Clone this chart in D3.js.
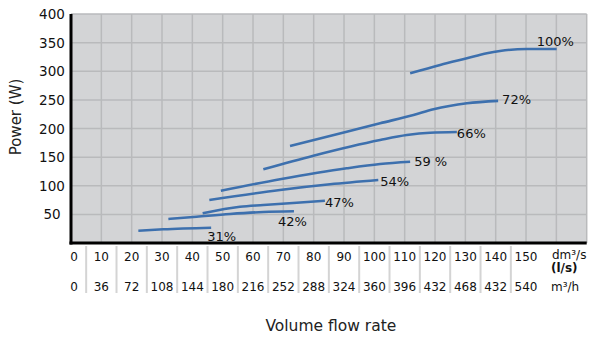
<!DOCTYPE html>
<html><head><meta charset="utf-8">
<script src="https://cdn.jsdelivr.net/npm/d3@7"></script>
<style>html,body{margin:0;padding:0;background:#fff;}svg{display:block;}</style>
</head><body>
<svg id="chart" width="590" height="338"></svg>
<script>
// ---- data ----
const flowTicks = [0,10,20,30,40,50,60,70,80,90,100,110,120,130,140,150];
const m3hLabels = ["0","36","72","108","144","180","216","252","288","324","360","396","432","468","432","540"];
const powerTicks = [50,100,150,200,250,300,350,400];
const seriesNames = ["100%","72%","66%","59 %","54%","47%","42%","31%"];
const s100 = [[111.8,296.4],[121.7,310.9],[130.5,322.6],[137.1,331.4],[141.4,335.4],[150.2,338.9],[160.1,338.9]];
const s72  = [[72.2,169.4],[90.9,194.4],[101.9,209.1],[112.9,223.6],[119.5,233.5],[130.5,244.0],[140.8,248.3]];
const s66  = [[63.4,128.7],[79.9,152.5],[101.9,179.9],[110.7,188.6],[118.4,192.7],[127.2,193.9]];
const s59  = [[49.4,91.4],[68.9,111.3],[90.9,130.5],[101.9,138.0],[111.8,142.0]];
const s54  = [[45.6,75.1],[68.9,92.6],[85.4,102.5],[101.3,110.0]];
const s47  = [[43.4,51.9],[55.7,63.4],[63.4,66.4],[74.4,70.4],[83.7,73.9]];
const s42  = [[32.1,41.9],[41.4,45.9],[52.4,50.7],[63.4,54.1],[73.5,55.4]];
const s31  = [[22.2,21.5],[30.4,23.9],[46.2,26.7]];
const seriesData = [s100,s72,s66,s59,s54,s47,s42,s31];
// label offsets (px) relative to the last point of each series
const labelDx = [-20,4,0,4,2,0,-16,-4];
const labelDy = [-3,3,6,4,6,6,15,13];

// ---- layout ----
const svg = d3.select("#chart");
const L = 71, R = 586.7, T = 14, B = 243;
const x = d3.scaleLinear().domain([0,170]).range([L,R]);
const y = d3.scaleLinear().domain([0,400]).range([B,T]);
const numFont = "DejaVu Sans, sans-serif";

// background
svg.append("rect").attr("x",L).attr("y",T).attr("width",R-L).attr("height",B-T).attr("fill","#d3d4d6");

// grid
const g = svg.append("g");
g.selectAll("line.v").data(d3.range(10,180,10)).enter().append("line")
  .attr("x1",d=>x(d)).attr("x2",d=>x(d)).attr("y1",T).attr("y2",B)
  .attr("stroke","#b9babc").attr("stroke-width",1.5);
g.selectAll("line.h").data(powerTicks).enter().append("line")
  .attr("x1",L).attr("x2",R).attr("y1",d=>y(d)).attr("y2",d=>y(d))
  .attr("stroke","#b9babc").attr("stroke-width",1.5);

// axes lines
svg.append("line").attr("x1",L).attr("x2",L).attr("y1",T).attr("y2",B+1.5).attr("stroke","#000").attr("stroke-width",3);
svg.append("line").attr("x1",L-1.5).attr("x2",R).attr("y1",B).attr("y2",B).attr("stroke","#000").attr("stroke-width",3);

// y labels
svg.selectAll("text.yl").data(powerTicks).enter().append("text")
  .attr("x",52).attr("y",d=>y(d)+5).attr("text-anchor","middle")
  .attr("font-family",numFont).attr("font-size",13.5).attr("fill","#111")
  .text(d=>d);

// separators under x axis
svg.selectAll("line.sep").data(d3.range(5,150,10)).enter().append("line")
  .attr("x1",d=>x(d)).attr("x2",d=>x(d)).attr("y1",246).attr("y2",293)
  .attr("stroke","#d4d4d4").attr("stroke-width",2);

// x labels rows
svg.selectAll("text.xl").data(flowTicks).enter().append("text")
  .attr("x",d=>d===0?x(d)+3:x(d)).attr("y",260.5).attr("text-anchor","middle")
  .attr("font-family",numFont).attr("font-size",12).attr("fill","#111")
  .text(d=>d);
svg.selectAll("text.xl2").data(flowTicks).enter().append("text")
  .attr("x",d=>d===0?x(d)+3:x(d)).attr("y",290.5).attr("text-anchor","middle")
  .attr("font-family",numFont).attr("font-size",12).attr("fill","#111")
  .text((d,i)=>m3hLabels[i]);
svg.append("text").attr("x",552).attr("y",258.5).attr("font-family",numFont).attr("font-size",12).attr("fill","#111").text("dm³/s");
svg.append("text").attr("x",551).attr("y",271.5).attr("font-family",numFont).attr("font-size",12).attr("font-weight","bold").attr("fill","#111").text("(l/s)");
svg.append("text").attr("x",551).attr("y",290.5).attr("font-family",numFont).attr("font-size",12).attr("fill","#111").text("m³/h");

// axis titles
svg.append("text").attr("x",(L+R)/2+2).attr("y",331).attr("text-anchor","middle")
  .attr("font-family",numFont).attr("font-size",15.5).attr("fill","#222").text("Volume flow rate");
svg.append("text").attr("transform","translate(21,117) rotate(-90)").attr("text-anchor","middle")
  .attr("font-family",numFont).attr("font-size",15).attr("fill","#222").text("Power (W)");

// curves
const line = d3.line().x(d=>x(d[0])).y(d=>y(d[1])).curve(d3.curveMonotoneX);
svg.selectAll("path.s").data(seriesData).enter().append("path")
  .attr("d",line).attr("fill","none").attr("stroke","#3d70ae").attr("stroke-width",2.6).attr("stroke-linecap","butt");

// series labels
svg.selectAll("text.sl").data(seriesData).enter().append("text")
  .attr("x",(d,i)=>x(d[d.length-1][0])+labelDx[i])
  .attr("y",(d,i)=>y(d[d.length-1][1])+labelDy[i])
  .attr("font-family",numFont).attr("font-size",13).attr("fill","#111")
  .text((d,i)=>seriesNames[i]);
</script>
</body></html>
